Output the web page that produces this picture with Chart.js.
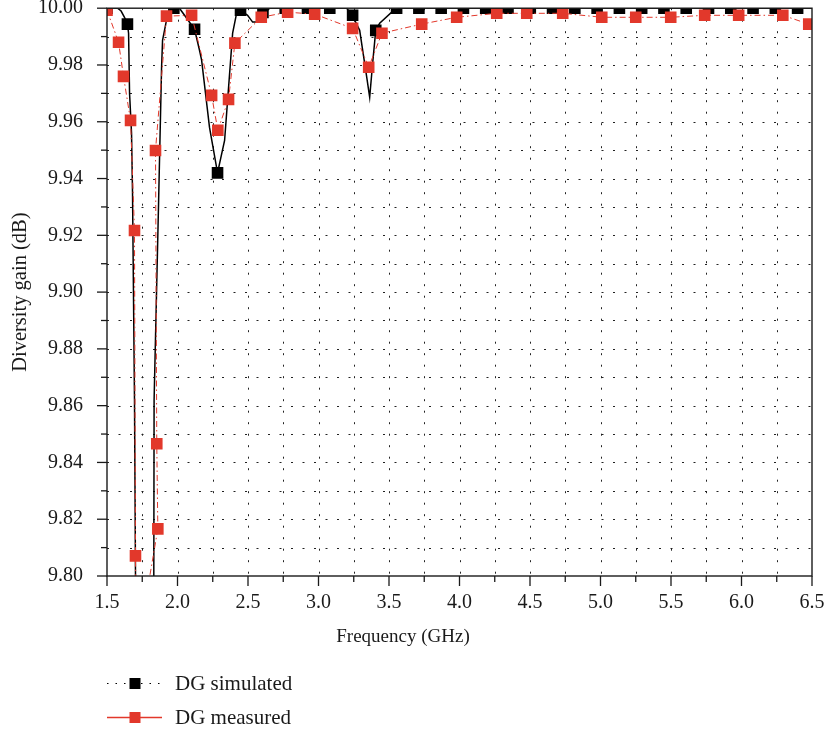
<!DOCTYPE html>
<html>
<head>
<meta charset="utf-8">
<script src="https://cdn.jsdelivr.net/npm/chart.js@4/dist/chart.umd.min.js"></script>
<style>
html,body{margin:0;padding:0;background:#fff;}
#wrap{width:827px;height:730px;position:relative;}
</style>
</head>
<body>
<div id="wrap"><canvas id="c" width="827" height="730"></canvas></div>
<script>
// ---------- data ----------
const seriesNames = ['DG simulated', 'DG measured'];

// simulated curve (dense trace of the black line)
const simulatedFreq = [1.500, 1.575, 1.600, 1.624, 1.645, 1.653, 1.660, 1.674, 1.681, 1.695, 1.702, 1.712,
  1.826, 1.832, 1.834, 1.866, 1.887, 1.894, 1.922, 1.944, 1.979, 2.014, 2.050, 2.121, 2.156, 2.171,
  2.227, 2.284, 2.334, 2.391, 2.419, 2.447, 2.497, 2.533, 2.568, 2.618, 2.653, 3.200, 3.240, 3.292,
  3.342, 3.363, 3.384, 3.406, 3.434, 3.519, 3.580, 6.500];
const simulatedGain = [10.000, 10.000, 9.9990, 9.9968, 9.9944, 9.9912, 9.9700, 9.9560, 9.9350, 9.8620, 9.8010, 9.7500,
  9.7500, 9.8000, 9.8620, 9.9320, 9.9790, 9.9887, 9.9958, 9.9986, 10.000, 10.000, 9.9975, 9.9926, 9.9852, 9.9817,
  9.9580, 9.9420, 9.9534, 9.9912, 9.9982, 9.9993, 9.9975, 9.9951, 9.9951, 9.9982, 10.000, 10.000, 9.9975, 9.9922,
  9.9757, 9.9686, 9.9806, 9.9922, 9.9947, 9.9986, 10.000, 10.000];

// simulated square markers
const simulatedMarkerFreq = [1.500, 1.645, 1.974, 2.121, 2.284, 2.447, 2.606, 2.764, 2.922, 3.080, 3.242, 3.406,
  3.554, 3.712, 3.870, 4.028, 4.186, 4.344, 4.502, 4.660, 4.818, 4.976, 5.134, 5.292, 5.450, 5.608,
  5.766, 5.924, 6.082, 6.240, 6.398];
const simulatedMarkerGain = [10.000, 9.9944, 10.000, 9.9926, 9.9420, 9.9993, 9.9985, 10.000, 10.000, 10.000, 9.9975, 9.9922,
  10.000, 10.000, 10.000, 10.000, 10.000, 10.000, 10.000, 10.000, 10.000, 10.000, 10.000, 10.000, 10.000, 10.000,
  10.000, 10.000, 10.000, 10.000, 10.000];

// measured curve (markers plus the part of the dip that falls below the axis)
const measuredFreq = [1.500, 1.582, 1.617, 1.667, 1.695, 1.702, 1.706, 1.735, 1.8605, 1.853, 1.844, 1.922,
  2.100, 2.242, 2.286, 2.362, 2.407, 2.594, 2.781, 2.973, 3.242, 3.356, 3.450, 3.732, 3.980, 4.264,
  4.477, 4.732, 5.009, 5.250, 5.498, 5.739, 5.980, 6.293, 6.477];
const measuredGain = [9.9993, 9.9880, 9.9760, 9.9605, 9.9217, 9.8071, 9.7800, 9.7800, 9.8166, 9.8466, 9.9499, 9.9972,
  9.9975, 9.9693, 9.9570, 9.9679, 9.9877, 9.9968, 9.9986, 9.9979, 9.9929, 9.9792, 9.9912, 9.9944, 9.9968, 9.9982,
  9.9982, 9.9982, 9.9968, 9.9968, 9.9968, 9.9975, 9.9975, 9.9975, 9.9944];

const xTickLabels = ['1.5', '2.0', '2.5', '3.0', '3.5', '4.0', '4.5', '5.0', '5.5', '6.0', '6.5'];
const yTickLabels = ['9.80', '9.82', '9.84', '9.86', '9.88', '9.90', '9.92', '9.94', '9.96', '9.98', '10.00'];
const xTitle = 'Frequency (GHz)';
const yTitle = 'Diversity gain (dB)';

// ---------- styling ----------
const X_MIN = 1.5, X_MAX = 6.5, Y_MIN = 9.80, Y_MAX = 10.00;
const AREA = {left: 107, top: 8, right: 812, bottom: 576};
const RED = '#e2382b';
const INK = '#1a1a1a';
const FONT = "'Liberation Serif', 'Times New Roman', serif";

const toPts = (xs, ys) => xs.map((v, i) => ({x: v, y: ys[i]}));
const labelFor = (list, v) => {
  const hit = list.find(s => Math.abs(parseFloat(s) - v) < 1e-6);
  return hit === undefined ? '' : hit;
};

const framePlugin = {
  id: 'frame',
  beforeDatasetsDraw(chart) {
    const {ctx, chartArea: a, scales: {x, y}} = chart;
    ctx.save();
    ctx.strokeStyle = '#222';
    ctx.lineWidth = 1;
    ctx.setLineDash([2, 9.5]);
    y.ticks.forEach(t => {
      if (t.value <= Y_MIN + 1e-9 || t.value >= Y_MAX - 1e-9) return;
      const py = Math.round(y.getPixelForValue(t.value)) + 0.5;
      ctx.beginPath(); ctx.moveTo(a.left, py); ctx.lineTo(a.right, py); ctx.stroke();
    });
    x.ticks.forEach(t => {
      if (t.value <= X_MIN + 1e-9 || t.value >= X_MAX - 1e-9) return;
      const px = Math.round(x.getPixelForValue(t.value)) + 0.5;
      ctx.beginPath(); ctx.moveTo(px, a.top); ctx.lineTo(px, a.bottom); ctx.stroke();
    });
    ctx.setLineDash([]);
    ctx.strokeStyle = INK;
    ctx.lineWidth = 1.3;
    y.ticks.forEach(t => {
      const major = labelFor(yTickLabels, t.value) !== '';
      const py = y.getPixelForValue(t.value);
      ctx.beginPath(); ctx.moveTo(a.left, py); ctx.lineTo(a.left - (major ? 10 : 6), py); ctx.stroke();
    });
    x.ticks.forEach(t => {
      const major = labelFor(xTickLabels, t.value) !== '';
      const px = x.getPixelForValue(t.value);
      ctx.beginPath(); ctx.moveTo(px, a.bottom); ctx.lineTo(px, a.bottom + (major ? 10 : 6)); ctx.stroke();
    });
    ctx.restore();
  },
  afterDatasetsDraw(chart) {
    const {ctx, chartArea: a} = chart;
    ctx.save();
    ctx.strokeStyle = INK;
    ctx.lineWidth = 1.4;
    ctx.strokeRect(a.left, a.top, a.right - a.left, a.bottom - a.top);
    ctx.restore();
  }
};

const textPlugin = {
  id: 'texts',
  afterDraw(chart) {
    const ctx = chart.ctx;
    ctx.save();
    // x axis title (sits left of the plot centre in the reference)
    ctx.fillStyle = INK;
    ctx.font = '19px ' + FONT;
    ctx.textAlign = 'center';
    ctx.textBaseline = 'middle';
    ctx.fillText(xTitle, 403, 637);
    // legend
    const rows = [
      {y: 683, color: '#000', dash: [1.5, 7], width: 1.2, name: seriesNames[0]},
      {y: 717, color: RED, dash: [], width: 1.3, name: seriesNames[1]}
    ];
    rows.forEach(r => {
      ctx.strokeStyle = r.color;
      ctx.lineWidth = r.width;
      ctx.setLineDash(r.dash);
      ctx.beginPath(); ctx.moveTo(107, r.y + 0.5); ctx.lineTo(162, r.y + 0.5); ctx.stroke();
      ctx.setLineDash([]);
      ctx.fillStyle = r.color;
      ctx.fillRect(129.5, r.y - 5, 11, 11);
      ctx.fillStyle = INK;
      ctx.font = '21px ' + FONT;
      ctx.textBaseline = 'middle';
      ctx.textAlign = 'left';
      ctx.fillText(r.name, 175, r.y + 1);
    });
    ctx.restore();
  }
};

const chart = new Chart(document.getElementById('c'), {
  type: 'scatter',
  data: {
    datasets: [
      {
        label: seriesNames[1],
        data: toPts(measuredFreq, measuredGain),
        showLine: true,
        borderColor: RED,
        borderWidth: 1,
        borderDash: [6, 3, 1.5, 3],
        tension: 0,
        pointStyle: 'rect',
        pointRadius: c => (c.raw && c.raw.y < Y_MIN) ? 0 : 8.2,
        pointBackgroundColor: RED,
        pointBorderColor: RED,
        pointBorderWidth: 0,
        clip: 0,
        order: 1
      },
      {
        label: seriesNames[0] + ' markers',
        data: toPts(simulatedMarkerFreq, simulatedMarkerGain),
        showLine: false,
        pointStyle: 'rect',
        pointRadius: 8.2,
        pointBackgroundColor: '#000',
        pointBorderColor: '#000',
        pointBorderWidth: 0,
        clip: 0,
        order: 2
      },
      {
        label: seriesNames[0],
        data: toPts(simulatedFreq, simulatedGain),
        showLine: true,
        borderColor: '#000',
        borderWidth: 1.5,
        tension: 0,
        pointRadius: 0,
        clip: 0,
        order: 3
      }
    ]
  },
  options: {
    responsive: false,
    animation: false,
    events: [],
    layout: {padding: {left: 0, right: 15, top: 8, bottom: 82}},
    plugins: {legend: {display: false}, tooltip: {enabled: false}},
    scales: {
      x: {
        type: 'linear', min: X_MIN, max: X_MAX,
        afterFit: s => { s.height = 72; s.paddingLeft = 0; s.paddingRight = 0; },
        grid: {display: false, drawTicks: false},
        border: {display: false},
        ticks: {
          stepSize: 0.25, autoSkip: false, maxRotation: 0, padding: 15,
          color: INK, font: {family: FONT, size: 20},
          callback: v => labelFor(xTickLabels, v)
        },
        title: {display: false}
      },
      y: {
        type: 'linear', min: Y_MIN, max: Y_MAX,
        afterFit: s => { s.width = 107; s.paddingTop = 0; s.paddingBottom = 0; },
        grid: {display: false, drawTicks: false},
        border: {display: false},
        ticks: {
          stepSize: 0.01, autoSkip: false, padding: 24,
          color: INK, font: {family: FONT, size: 20},
          callback: v => labelFor(yTickLabels, v)
        },
        title: {display: true, text: yTitle, color: INK, font: {family: FONT, size: 20.5}, padding: {top: 8, bottom: 0}}
      }
    }
  },
  plugins: [framePlugin, textPlugin]
});

// nudge the layout padding so the plotting area lands where the reference has it
for (let k = 0; k < 3; k++) {
  const ca = chart.chartArea;
  const p = chart.options.layout.padding;
  const dl = AREA.left - ca.left, dt = AREA.top - ca.top;
  const dr = ca.right - AREA.right, db = ca.bottom - AREA.bottom;
  if (Math.abs(dl) + Math.abs(dt) + Math.abs(dr) + Math.abs(db) < 0.5) break;
  p.left += dl; p.top += dt; p.right += dr; p.bottom += db;
  chart.update();
}
</script>
</body>
</html>
